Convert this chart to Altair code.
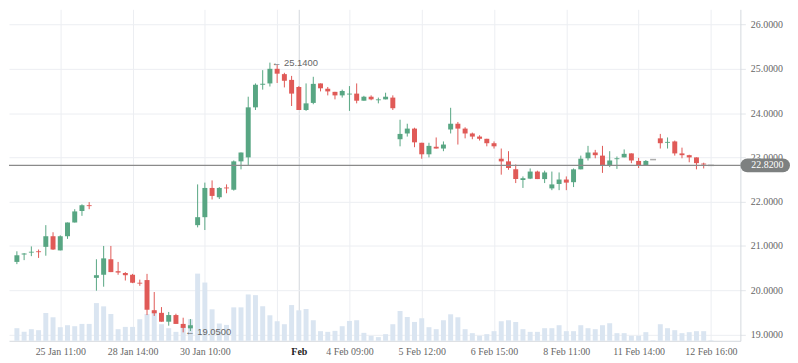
import altair as alt
import pandas as pd

# ---- data (hourly candles, index 0..96) ----
opens = [20.64, 20.81, 20.85, 20.88, 20.98, 21.22, 20.90, 21.22, 21.53, 21.79,
         21.92, 20.28, 20.35, 20.70, 20.43, 20.39, 20.35, 20.17, 20.23, 19.55,
         19.49, 19.29, 19.44, 19.24, 19.14, 21.47, 21.65, 22.31, 22.10, 22.32,
         22.27, 22.91, 23.00, 24.13, 24.64, 24.67, 25.00, 24.88, 24.75, 24.59,
         24.07, 24.23, 24.67, 24.55, 24.48, 24.40, 24.42, 24.44, 24.28, 24.37,
         24.29, 24.31, 24.35, 23.41, 23.54, 23.65, 23.33, 23.07, 23.24, 23.20,
         23.63, 23.76, 23.65, 23.54, 23.47, 23.42, 23.32, 22.97, 22.91, 22.73,
         22.49, 22.52, 22.68, 22.51, 22.30, 22.40, 22.50, 22.44, 22.73, 22.98,
         23.11, 23.04, 22.82, 22.96, 23.00, 23.09, 22.92, 22.82, 22.95, 23.43,
         23.33, 23.36, 23.09, 23.05, 23.00, 22.86, 22.82]
highs = [20.88, 20.84, 20.99, 20.92, 21.47, 21.31, 21.24, 21.53, 21.83, 21.94,
         21.99, 20.70, 21.00, 21.00, 20.64, 20.41, 20.37, 20.24, 20.37, 19.96,
         19.62, 19.51, 19.47, 19.38, 19.35, 22.39, 22.43, 22.48, 22.33, 22.39,
         22.93, 23.11, 24.37, 24.67, 24.97, 25.14, 25.09, 24.91, 24.84, 24.61,
         24.67, 24.82, 24.67, 24.59, 24.48, 24.53, 24.61, 24.67, 24.39, 24.40,
         24.35, 24.46, 24.40, 23.85, 23.76, 23.67, 23.33, 23.33, 23.45, 23.36,
         24.12, 23.80, 23.68, 23.56, 23.50, 23.42, 23.36, 23.20, 23.14, 22.84,
         22.57, 22.75, 22.70, 22.70, 22.68, 22.66, 22.57, 22.75, 23.04, 23.26,
         23.17, 23.26, 23.14, 23.02, 23.18, 23.09, 22.99, 22.94, 22.95, 23.53,
         23.45, 23.38, 23.22, 23.06, 23.00, 22.88, 22.82]
lows = [20.59, 20.68, 20.77, 20.73, 20.78, 20.91, 20.90, 21.16, 21.53, 21.68,
        21.83, 19.99, 20.08, 20.41, 20.35, 20.22, 20.16, 20.10, 19.44, 19.42,
        19.29, 19.20, 19.24, 19.05, 19.08, 21.42, 21.36, 22.05, 22.06, 22.19,
        22.25, 22.73, 22.81, 24.07, 24.53, 24.60, 24.68, 24.58, 24.16, 24.07,
        24.05, 24.20, 24.49, 24.40, 24.31, 24.35, 24.05, 24.22, 24.28, 24.29,
        24.22, 24.31, 24.07, 23.25, 23.47, 23.23, 22.97, 23.00, 23.20, 23.14,
        23.54, 23.29, 23.43, 23.41, 23.38, 23.25, 23.20, 22.61, 22.72, 22.42,
        22.31, 22.51, 22.51, 22.42, 22.26, 22.26, 22.26, 22.33, 22.73, 22.93,
        22.98, 22.65, 22.78, 22.74, 23.00, 22.87, 22.76, 22.82, 22.95, 23.20,
        23.20, 23.04, 22.98, 22.89, 22.73, 22.75, 22.82]
closes = [20.79, 20.83, 20.87, 20.86, 21.22, 20.92, 21.22, 21.53, 21.78, 21.92,
          21.90, 20.34, 20.72, 20.41, 20.40, 20.34, 20.17, 20.15, 19.56, 19.48,
          19.29, 19.44, 19.24, 19.15, 19.21, 21.65, 22.31, 22.13, 22.31, 22.30,
          22.91, 23.11, 24.13, 24.64, 24.66, 25.00, 24.89, 24.73, 24.44, 24.07,
          24.22, 24.66, 24.56, 24.49, 24.40, 24.50, 24.44, 24.28, 24.37, 24.31,
          24.31, 24.37, 24.11, 23.53, 23.65, 23.34, 23.07, 23.26, 23.20, 23.29,
          23.76, 23.65, 23.54, 23.47, 23.42, 23.32, 23.25, 22.91, 22.76, 22.51,
          22.53, 22.68, 22.51, 22.66, 22.39, 22.50, 22.43, 22.73, 22.97, 23.11,
          23.05, 22.82, 22.93, 22.98, 23.08, 22.93, 22.82, 22.92, 22.95, 23.32,
          23.35, 23.09, 23.05, 23.00, 22.87, 22.84, 22.82]
volumes = [127, 90, 117, 107, 280, 237, 137, 157, 147, 170,
           170, 380, 347, 270, 117, 140, 140, 217, 270, 300,
           167, 127, 90, 150, 217, 677, 587, 317, 174, 160,
           337, 337, 467, 460, 347, 257, 197, 167, 360, 307,
           320, 207, 97, 90, 100, 147, 200, 207, 80, 50,
           37, 67, 167, 300, 240, 190, 227, 137, 117, 207,
           267, 237, 117, 77, 50, 67, 97, 197, 207, 190,
           117, 90, 90, 127, 127, 157, 97, 97, 157, 127,
           117, 157, 177, 77, 77, 50, 50, 87, 5, 167,
           127, 107, 77, 87, 97, 97, 5]

tick_idx = [6, 16, 26, 36, 39, 46, 56, 66, 76, 86, 96]
tick_labels = ["25 Jan 11:00", "28 Jan 14:00", "30 Jan 10:00", "", "Feb",
               "4 Feb 09:00", "5 Feb 12:00", "6 Feb 15:00", "8 Feb 11:00",
               "11 Feb 14:00", "12 Feb 16:00"]
price_ticks = [19, 20, 21, 22, 23, 24, 25, 26]
last_price = 22.82
ann_idx = [35, 23]
ann_price = [25.14, 19.05]
ann_text = ["\u2190 25.1400", "\u2190 19.0500"]

# ---- build tables ----
n = len(opens)
df = pd.DataFrame({
    "idx": list(range(n)),
    "open": opens, "high": highs, "low": lows, "close": closes,
    "volume": volumes,
})
df["dir"] = ["up" if c > o else ("down" if c < o else "flat") for o, c in zip(opens, closes)]
ann = pd.DataFrame({"idx": ann_idx, "price": ann_price, "text": ann_text})
lp = pd.DataFrame({"price": [last_price], "text": [f"{last_price:.4f}"]})

W, H = 737, 334
GREEN, RED, GREY = "#58a683", "#e05a57", "#8a8a8a"

xdom = [-0.406, 99.39]
ydom = [18.859, 26.343]

label_expr = " : ".join(f"datum.value == {v} ? '{t}'" for v, t in zip(tick_idx, tick_labels)) + " : ''"

x_axis = alt.Axis(
    values=tick_idx, labelExpr=label_expr, title=None, grid=True,
    gridColor={"condition": {"test": "datum.value == 39", "value": "#d3d7dc"}, "value": "#eceef2"},
    labelColor={"condition": {"test": "datum.value == 39", "value": "#222222"}, "value": "#666666"},
    labelFontWeight={"condition": {"test": "datum.value == 39", "value": "bold"}, "value": "normal"},
    labelFont="Liberation Serif", labelFontSize=10, labelOverlap=False, labelFlush=False,
    labelPadding=6, ticks=False, domainColor="#d5d9de", labelAngle=0,
)
xq = alt.X("idx:Q", scale=alt.Scale(domain=xdom, nice=False, zero=False), axis=x_axis)
xq2 = alt.X("idx:Q", scale=alt.Scale(domain=xdom, nice=False, zero=False))

color = alt.Color("dir:N", scale=alt.Scale(domain=["up", "down", "flat"], range=[GREEN, RED, GREY]), legend=None)

vol = alt.Chart(df).mark_bar(size=5, color="#dae5f1").encode(
    x=xq,
    y=alt.Y("volume:Q", scale=alt.Scale(domain=[0, 3340], nice=False), axis=None),
)

yscale = alt.Scale(domain=ydom, nice=False, zero=False)
y_axis = alt.Axis(
    orient="right", values=price_ticks, format=".4f", title=None, grid=True,
    gridColor="#eceef2", domainColor="#d5d9de", tickColor="#e3e6ea", tickSize=5,
    labelFont="Liberation Serif", labelFontSize=10, labelColor="#666666", labelPadding=5,
)

wick = alt.Chart(df).mark_rule(strokeWidth=1).encode(
    x=xq2, y=alt.Y("low:Q", scale=yscale, axis=y_axis), y2="high:Q", color=color,
)
body = alt.Chart(df).mark_bar(size=5).encode(
    x=xq2, y=alt.Y("open:Q", scale=yscale), y2="close:Q", color=color,
)
flat = alt.Chart(df).transform_filter("datum.dir == 'flat'").mark_tick(
    orient="horizontal", size=6, thickness=1.5, color=GREY
).encode(x=xq2, y=alt.Y("close:Q", scale=yscale))

last_line = alt.Chart(lp).mark_rule(color=GREY, strokeWidth=1.2).encode(
    y=alt.Y("price:Q", scale=yscale), x=alt.value(0), x2=alt.value(W),
)
tag = alt.Chart(lp).mark_rule(color="#7d8080", strokeWidth=14, strokeCap="round").encode(
    y=alt.Y("price:Q", scale=yscale), x=alt.value(W + 7), x2=alt.value(W + 43),
)
tag_text = alt.Chart(lp).mark_text(
    align="left", baseline="middle", color="white", font="Liberation Serif", fontSize=10
).encode(y=alt.Y("price:Q", scale=yscale), x=alt.value(W + 11), text="text:N")

ann_txt = alt.Chart(ann).mark_text(
    align="left", baseline="middle", dx=2, color="#666666", font="Liberation Sans", fontSize=9.5
).encode(x=xq2, y=alt.Y("price:Q", scale=yscale), text="text:N")

price = alt.layer(wick, body, flat, last_line, ann_txt, tag, tag_text)

chart = alt.layer(vol, price).resolve_scale(y="independent").properties(
    width=W, height=H, padding={"left": 0, "top": 0, "right": 0, "bottom": 0}
).configure_view(stroke=None)

chart.save("out.html", embed_options={"renderer": "svg", "actions": False})
